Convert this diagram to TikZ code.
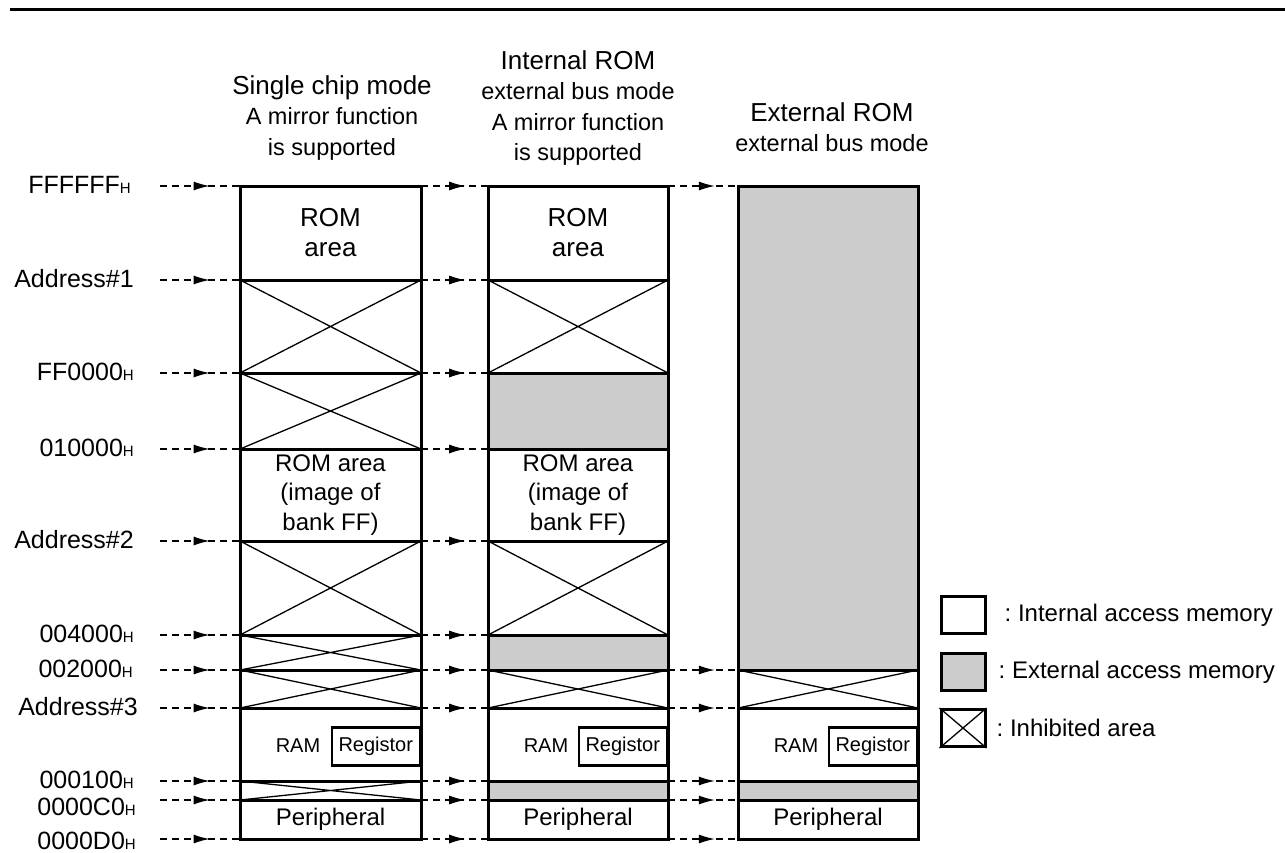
\documentclass[tikz,border=0pt]{standalone}
\usepackage{fontspec}
\setmainfont{Liberation Sans}
\usetikzlibrary{positioning, calc, arrows.meta, decorations.markings}

\definecolor{extgrey}{HTML}{CCCCCC}
\newcommand{\hsub}[1]{#1{\fontsize{15}{15}\selectfont H}}

\begin{document}
\begin{tikzpicture}[%
  x = 1pt, y = -1pt,
  colframe/.style = {line width=3pt},
  inhibit/.style  = {line width=1.3pt},
  extarea/.style  = {fill=extgrey},
  addr/.style     = {anchor=base east, inner sep=0pt,
                     font=\fontsize{25}{30}\selectfont},
  addrline/.style = {dash pattern=on 7pt off 5pt, line width=1.3pt,
                     postaction={decorate, decoration={markings,
                       mark=at position #1 with
                         {\arrow{Latex[length=16pt, width=9pt]}}}}},
  head/.style     = {align=center, font=\fontsize{23.5}{30.5}\selectfont},
  memtext/.style  = {align=center, inner sep=0pt,
                     font=\fontsize{24}{29.5}\selectfont},
  memsmall/.style = {inner sep=0pt, font=\fontsize{20}{24}\selectfont},
  regbox/.style   = {draw, line width=2.5pt, minimum width=88pt,
                     minimum height=38pt, inner sep=0pt,
                     font=\fontsize{20}{24}\selectfont},
  legendbox/.style= {draw, line width=3pt, minimum width=44pt,
                     minimum height=37pt, inner sep=0pt},
  legtext/.style  = {inner sep=0pt, font=\fontsize{24}{28}\selectfont}
]
  \useasboundingbox (0,0) rectangle (1285,852);

  % rule on top
  \draw[line width=3pt] (10,9) -- (1285,9);

  % row boundaries of the three columns
  \foreach \i/\y in {0/186, 1/280, 2/373, 3/449, 4/541, 5/635,
                     6/670, 7/708, 8/781, 9/800, 10/839} {
    \coordinate (s-\i) at (160,\y);
    \coordinate (a-\i) at (240,\y);  \coordinate (a-\i-e) at (421,\y);
    \coordinate (b-\i) at (488,\y);  \coordinate (b-\i-e) at (668,\y);
    \coordinate (c-\i) at (738,\y);  \coordinate (c-\i-e) at (918,\y);
  }

  % external access areas
  \fill[extarea] (b-2) rectangle (b-3-e);
  \fill[extarea] (b-5) rectangle (b-6-e);
  \fill[extarea] (b-8) rectangle (b-9-e);
  \fill[extarea] (c-0) rectangle (c-6-e);
  \fill[extarea] (c-8) rectangle (c-9-e);

  % inhibited areas
  \foreach \t/\b in {a-1/a-2, a-2/a-3, a-4/a-5, a-5/a-6, a-6/a-7, a-8/a-9,
                     b-1/b-2, b-4/b-5, b-6/b-7, c-6/c-7} {
    \draw[inhibit] (\t) -- (\b-e) (\t-e) -- (\b);
  }

  % column frames
  \foreach \c in {a, b} {
    \draw[colframe] (\c-0) rectangle (\c-10-e);
    \foreach \i in {1,...,9}
      \draw[colframe] (\c-\i) -- (\c-\i-e);
  }
  \draw[colframe] (c-0) rectangle (c-10-e);
  \foreach \i in {6,...,9}
    \draw[colframe] (c-\i) -- (c-\i-e);

  % address labels
  \foreach \i/\txt/\dx/\dy in {0/\hsub{FFFFFF}/29/7, 1/Address\#1/26/7,
                               2/\hsub{FF0000}/26/7, 3/\hsub{010000}/26/7,
                               4/Address\#2/26/7, 5/\hsub{004000}/26/7,
                               6/\hsub{002000}/27/7, 7/Address\#3/22/7,
                               8/\hsub{000100}/26/7, 9/\hsub{0000C0}/24/15,
                               10/\hsub{0000D0}/24/10} {
    \node[addr] (l-\i) at ([xshift=-\dx pt, yshift=-\dy pt]s-\i) {\txt};
  }

  % address arrows
  \foreach \i in {0,...,10} {
    \draw[addrline=0.62] (s-\i) -- (a-\i);
    \draw[addrline=0.66] (a-\i-e) -- (b-\i);
  }
  \foreach \i in {0,6,7,8,9,10}
    \draw[addrline=0.67] (b-\i-e) -- (c-\i);

  % column headings
  \node[head] (h-single) at (332,118)
    {{\fontsize{26}{30.5}\selectfont Single chip mode}\\
     A mirror function\\ is supported};
  \node[head] (h-introm) at (578,108)
    {{\fontsize{26}{30.5}\selectfont Internal ROM}\\
     external bus mode\\ A mirror function\\ is supported};
  \node[head] (h-extrom) at (832,127)
    {{\fontsize{26}{30.5}\selectfont External ROM}\\ external bus mode};

  % contents of the areas
  \foreach \c in {a, b} {
    \node[memtext, font=\fontsize{26}{30}\selectfont] (rom-\c)
      at ($(\c-0)!0.5!(\c-1-e)$) {ROM\\area};
    \node[memtext] (img-\c) at ($(\c-3)!0.5!(\c-4-e)$)
      {ROM area\\(image of\\bank FF)};
  }
  \foreach \c in {a, b, c} {
    \node[regbox, anchor=north east] (reg-\c)
      at ([yshift=-18pt]\c-7-e) {\raisebox{3pt}{Registor}};
    \node[memsmall] (ram-\c) at ([xshift=58pt, yshift=-38pt]\c-7) {RAM};
    \node[memtext] (per-\c) at ($(\c-9)!0.5!(\c-10-e)$) {Peripheral};
  }

  % legend
  \node[legendbox] (lg-int) at (963,615) {};
  \node[legendbox, extarea] (lg-ext) at (963,672) {};
  \node[legendbox] (lg-inh) at (963,728) {};
  \draw[inhibit] (lg-inh.north west) -- (lg-inh.south east)
                 (lg-inh.north east) -- (lg-inh.south west);
  \node[legtext, right=18pt of lg-int] (lt-int) {:~Internal access memory};
  \node[legtext, right=12pt of lg-ext] (lt-ext) {:~External access memory};
  \node[legtext, right=10pt of lg-inh] (lt-inh) {:~Inhibited area};
\end{tikzpicture}
\end{document}
